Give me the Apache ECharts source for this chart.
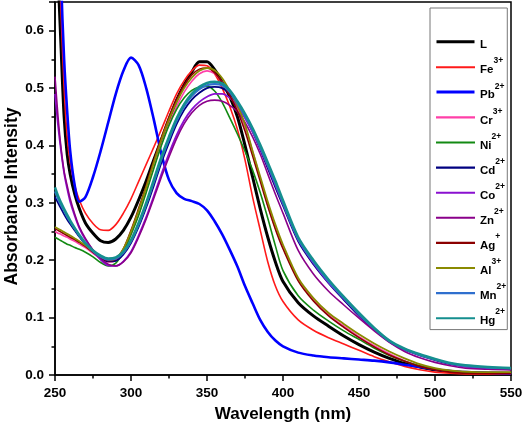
<!DOCTYPE html>
<html><head><meta charset="utf-8">
<script src="https://cdn.jsdelivr.net/npm/echarts@6/dist/echarts.min.js"></script>
<style>html,body{margin:0;padding:0;background:#fff}#c{width:524px;height:425px}</style>
</head><body><div id="c"></div>
<script>
const wavelengths = [250,252,254,256,258,260,263,266,270,275,280,285,290,295,300,305,310,315,320,325,330,335,340,345,350,355,360,365,370,375,380,385,390,395,400,410,420,430,440,450,460,470,480,490,500,510,520,535,550];

const L  = [0.85,0.70,0.57,0.45,0.385,0.35,0.315,0.29,0.265,0.247,0.234,0.231,0.237,0.252,0.275,0.305,0.338,0.375,0.41,0.445,0.479,0.506,0.528,0.546,0.546,0.532,0.51,0.485,0.45,0.40,0.345,0.29,0.24,0.197,0.163,0.126,0.103,0.085,0.068,0.053,0.04,0.029,0.02,0.014,0.009,0.006,0.004,0.003,0.003];
const Fe = [0.95,0.78,0.63,0.50,0.415,0.37,0.33,0.305,0.282,0.264,0.253,0.252,0.262,0.282,0.307,0.337,0.367,0.397,0.428,0.46,0.49,0.513,0.53,0.54,0.539,0.525,0.50,0.468,0.428,0.375,0.31,0.253,0.197,0.155,0.128,0.096,0.078,0.065,0.054,0.043,0.032,0.023,0.015,0.009,0.005,0.003,0.002,0.002,0.002];
const Pb = [1.2,0.92,0.69,0.55,0.46,0.39,0.33,0.302,0.31,0.345,0.39,0.44,0.49,0.53,0.553,0.54,0.50,0.445,0.385,0.34,0.317,0.307,0.303,0.298,0.287,0.268,0.245,0.218,0.189,0.155,0.125,0.096,0.075,0.06,0.05,0.039,0.034,0.031,0.029,0.027,0.025,0.022,0.018,0.014,0.01,0.007,0.005,0.004,0.003];
const Cr = [0.25,0.247,0.245,0.242,0.24,0.237,0.233,0.228,0.222,0.212,0.203,0.197,0.20,0.216,0.245,0.28,0.32,0.362,0.402,0.438,0.468,0.493,0.512,0.525,0.53,0.525,0.51,0.489,0.465,0.432,0.39,0.342,0.296,0.256,0.222,0.166,0.131,0.105,0.085,0.067,0.051,0.037,0.025,0.016,0.01,0.006,0.004,0.003,0.003];
const Ni = [0.24,0.237,0.234,0.231,0.228,0.226,0.222,0.219,0.214,0.206,0.196,0.19,0.195,0.215,0.245,0.278,0.318,0.36,0.40,0.435,0.463,0.483,0.496,0.502,0.503,0.495,0.475,0.448,0.42,0.39,0.357,0.318,0.273,0.225,0.182,0.138,0.113,0.094,0.077,0.062,0.047,0.034,0.024,0.016,0.01,0.007,0.005,0.004,0.004];
const Cd = [0.31,0.30,0.29,0.28,0.271,0.263,0.252,0.241,0.228,0.215,0.204,0.198,0.199,0.21,0.23,0.258,0.292,0.33,0.37,0.405,0.437,0.462,0.48,0.492,0.50,0.502,0.50,0.49,0.472,0.45,0.424,0.393,0.36,0.327,0.295,0.233,0.193,0.16,0.131,0.103,0.079,0.058,0.044,0.034,0.026,0.019,0.015,0.012,0.011];
const Co = [0.49,0.435,0.39,0.352,0.325,0.302,0.277,0.256,0.236,0.217,0.201,0.191,0.19,0.198,0.215,0.243,0.275,0.312,0.35,0.386,0.418,0.444,0.463,0.476,0.485,0.49,0.49,0.483,0.468,0.448,0.424,0.395,0.364,0.331,0.298,0.236,0.195,0.161,0.133,0.105,0.08,0.059,0.045,0.035,0.027,0.02,0.015,0.012,0.01];
const Zn = [0.52,0.45,0.395,0.355,0.33,0.307,0.28,0.258,0.238,0.218,0.203,0.193,0.19,0.197,0.213,0.24,0.272,0.308,0.345,0.38,0.412,0.438,0.457,0.47,0.477,0.479,0.477,0.47,0.459,0.44,0.415,0.385,0.35,0.315,0.282,0.217,0.176,0.146,0.122,0.099,0.077,0.057,0.041,0.03,0.022,0.016,0.012,0.01,0.009];
const Ag = [0.255,0.252,0.249,0.246,0.243,0.24,0.236,0.231,0.224,0.214,0.205,0.199,0.202,0.22,0.252,0.29,0.33,0.374,0.414,0.45,0.48,0.505,0.523,0.533,0.535,0.527,0.51,0.487,0.46,0.425,0.382,0.338,0.294,0.254,0.22,0.164,0.129,0.103,0.083,0.065,0.049,0.035,0.024,0.015,0.009,0.005,0.003,0.003,0.003];
const Al = [0.258,0.255,0.252,0.249,0.246,0.243,0.238,0.233,0.226,0.216,0.207,0.201,0.203,0.22,0.25,0.287,0.327,0.37,0.41,0.445,0.475,0.50,0.518,0.53,0.535,0.531,0.517,0.495,0.47,0.437,0.39,0.346,0.302,0.262,0.227,0.169,0.134,0.108,0.089,0.071,0.055,0.041,0.029,0.019,0.012,0.008,0.006,0.005,0.005];
const Mn = [0.32,0.307,0.296,0.286,0.276,0.267,0.255,0.243,0.229,0.216,0.206,0.201,0.203,0.213,0.233,0.262,0.297,0.336,0.376,0.411,0.443,0.468,0.486,0.498,0.505,0.507,0.505,0.493,0.474,0.451,0.427,0.397,0.366,0.334,0.30,0.237,0.197,0.163,0.134,0.106,0.081,0.059,0.045,0.035,0.027,0.02,0.016,0.013,0.012];
const Hg = [0.327,0.312,0.30,0.289,0.279,0.269,0.256,0.244,0.23,0.217,0.208,0.203,0.205,0.215,0.235,0.265,0.30,0.34,0.38,0.415,0.447,0.472,0.49,0.502,0.509,0.511,0.508,0.496,0.477,0.455,0.43,0.401,0.37,0.338,0.304,0.24,0.20,0.166,0.136,0.108,0.082,0.06,0.046,0.036,0.028,0.021,0.017,0.014,0.012];

const ionSymbols = ['L','Fe','Pb','Cr','Ni','Cd','Co','Zn','Ag','Al','Mn','Hg'];
const ionCharges = ['','3+','2+','3+','2+','2+','2+','2+','+','3+','2+','2+'];
const ionValues  = [L,Fe,Pb,Cr,Ni,Cd,Co,Zn,Ag,Al,Mn,Hg];
const yTicks = [0,0.1,0.2,0.3,0.4,0.5,0.6];
const xTicks = [250,300,350,400,450,500,550];

const lineColors = ['#000000','#ff1a1a','#0000ff','#ff3fa8','#138a13','#000080','#8a10d0','#8a008a','#8b0000','#8a8a00','#2f6fce','#158f8f'];
const lineWidths = [3,1.6,2.6,1.6,1.6,1.8,1.8,1.6,1.6,1.8,2.2,2.6];

const chart = echarts.init(document.getElementById('c'), null, {renderer:'canvas'});
const FONT = 'Liberation Sans, Arial, sans-serif';

const series = ionSymbols.map((sym, i) => ({
  name: sym + ionCharges[i],
  type: 'line',
  data: wavelengths.map((w, k) => [w, ionValues[i][k]]),
  smooth: 0.3,
  symbol: 'none',
  showSymbol: false,
  clip: true,
  lineStyle: {color: lineColors[i], width: lineWidths[i]},
  itemStyle: {color: lineColors[i]},
  z: 2 + i
}));

const chargeOf = {};
ionSymbols.forEach((s, i) => { chargeOf[s + ionCharges[i]] = [s, ionCharges[i]]; });

// legend icon: a thin bar sitting low inside the icon box (tiny dot at top fixes the box extent)
const thickIcon = 'path://M0,0h0.05v0.05h-0.05z M0,8.7h39v3.1h-39z';
const thinIcon  = 'path://M0,0h0.05v0.05h-0.05z M0,9.2h39v2.1h-39z';

chart.setOption({
  animation: false,
  backgroundColor: '#fff',
  grid: {left: 55, right: 13, top: 2, bottom: 50, containLabel: false, outerBoundsMode: 'none',
         show: true, borderColor: '#000', borderWidth: 1.5},
  xAxis: {
    type: 'value', min: 250, max: 550, interval: 50,
    name: 'Wavelength (nm)', nameLocation: 'middle', nameGap: 31,
    nameTextStyle: {fontFamily: FONT, fontWeight: 'bold', fontSize: 17, color: '#000'},
    axisLine: {show: true, lineStyle: {color: '#000', width: 1.5}},
    axisTick: {show: true, length: 6, lineStyle: {color: '#000', width: 1.5}},
    minorTick: {show: true, splitNumber: 2, length: 3.5, lineStyle: {color: '#000', width: 1.5}},
    splitLine: {show: false},
    axisLabel: {fontFamily: FONT, fontWeight: 'bold', fontSize: 13.5, color: '#000', margin: 11,
      formatter: v => xTicks.includes(v) ? String(v) : ''}
  },
  yAxis: {
    type: 'value', min: 0, max: 0.65, interval: 0.1,
    name: 'Absorbance Intensity', nameLocation: 'middle', nameGap: 34, nameRotate: 90,
    nameMoveOverlap: false,
    nameTextStyle: {fontFamily: FONT, fontWeight: 'bold', fontSize: 17.5, color: '#000', padding: [0, 16, 0, 0]},
    axisLine: {show: true, lineStyle: {color: '#000', width: 1.5}},
    axisTick: {show: true, length: 6, lineStyle: {color: '#000', width: 1.5}},
    minorTick: {show: true, splitNumber: 2, length: 3.5, lineStyle: {color: '#000', width: 1.5}},
    splitLine: {show: false},
    axisLabel: {fontFamily: FONT, fontWeight: 'bold', fontSize: 13.5, color: '#000', margin: 11, showMaxLabel: false,
      formatter: v => {
        const t = yTicks.find(y => Math.abs(y - v) < 1e-6);
        return t === undefined ? '' : t.toFixed(1);
      }}
  },
  legend: {
    orient: 'vertical', left: 430, top: 8,
    padding: [23.5, 1, 0, 6],
    itemGap: 3.1, itemWidth: 39, itemHeight: 11.5,
    borderColor: '#777', borderWidth: 1, backgroundColor: '#fff',
    data: series.map((s, i) => ({name: s.name, icon: (i === 0 || i === 2) ? thickIcon : thinIcon})),
    formatter: name => {
      const p = chargeOf[name];
      return p[1] ? '{b|' + p[0] + '}{s|' + p[1] + '}' : '{b|' + p[0] + '}';
    },
    textStyle: {
      fontFamily: FONT, color: '#000',
      rich: {
        b: {fontFamily: FONT, fontWeight: 'bold', fontSize: 11.5, color: '#000', lineHeight: 12, padding: [7.6, 0, 2.4, 0], verticalAlign: 'top'},
        s: {fontFamily: FONT, fontWeight: 'bold', fontSize: 8.5, color: '#000', lineHeight: 10, verticalAlign: 'top'}
      }
    }
  },
  series: series
});
</script></body></html>
